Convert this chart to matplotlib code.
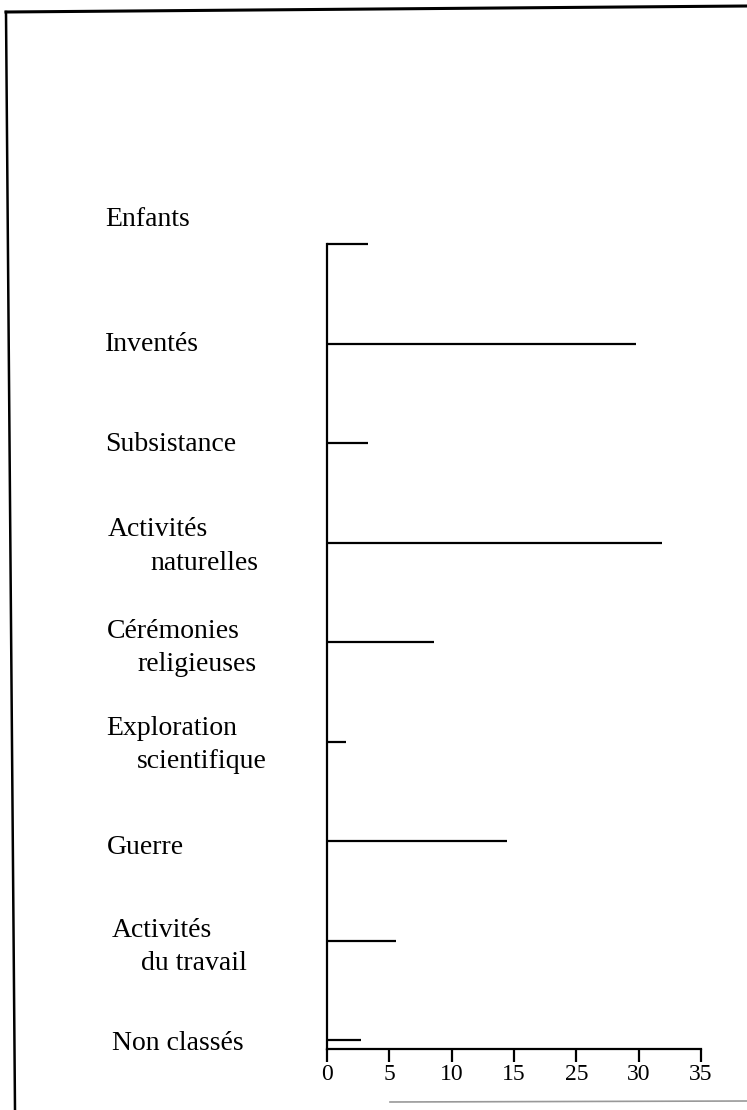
import matplotlib.pyplot as plt
from matplotlib.lines import Line2D
import matplotlib.transforms as mtransforms

# categories (two-line labels split in two parts) and values
categories = ["Enfants", "Inventés", "Subsistance", "Activités\nnaturelles",
              "Cérémonies\nreligieuses", "Exploration\nscientifique", "Guerre",
              "Activités\ndu travail", "Non classés"]
values = [3.3, 24.8, 3.3, 26.9, 8.6, 1.5, 14.4, 5.5, 2.7]
# the printed axis skips 20 (misprint in the original figure)
tick_labels = ["0", "5", "10", "15", "25", "30", "35"]

W, H = 747, 1110
fig = plt.figure(figsize=(W / 100, H / 100), dpi=100)
fig.patch.set_facecolor("white")

serif = ["Liberation Serif", "DejaVu Serif"]

ax = fig.add_axes([327 / W, 1 - 1049 / H, (701 - 327) / W, (1049 - 244) / H])
ypos = list(range(len(categories)))
ax.hlines(ypos, 0, values, colors="black", linewidth=1.6, clip_on=False)
ax.set_xlim(0, 30)
ax.set_ylim(8.09, 0)

for s in ["top", "right"]:
    ax.spines[s].set_visible(False)
ax.spines["left"].set_linewidth(1.6)
ax.spines["bottom"].set_linewidth(1.6)
ax.set_yticks([])
ax.set_xticks(range(0, 31, 5))
ax.set_xticklabels(tick_labels, fontfamily=serif, fontsize=17)
ax.tick_params(axis="x", length=9, width=1.6, pad=2)

# category labels: x in pixels, y follows the bar; second line indented
label_x = [105, 105, 105, 108, 107, 106, 107, 112, 112]
label_indent = [0, 0, 0, 42, 30, 31, 0, 29, 0]
label_dy = [-0.30, -0.04, -0.04, -0.01, 0.01, -0.015, 0.01, 0.015, -0.02]
bias = 0.05
line_gap = 0.34
trans = mtransforms.blended_transform_factory(fig.transFigure, ax.transData)
for i, lab in enumerate(categories):
    parts = lab.split("\n")
    y0 = i + label_dy[i] + bias
    if len(parts) == 1:
        ax.text(label_x[i] / W, y0, parts[0], transform=trans, ha="left",
                va="center", fontfamily=serif, fontsize=20, clip_on=False)
    else:
        ax.text(label_x[i] / W, y0 - line_gap / 2, parts[0], transform=trans,
                ha="left", va="center", fontfamily=serif, fontsize=20, clip_on=False)
        ax.text((label_x[i] + label_indent[i]) / W, y0 + line_gap / 2, parts[1],
                transform=trans, ha="left", va="center", fontfamily=serif,
                fontsize=20, clip_on=False)

# scanned page frame
fig.add_artist(Line2D([6 / W, 1], [1 - 12 / H, 1 - 6 / H], color="black", linewidth=2.2))
fig.add_artist(Line2D([6 / W, 15 / W], [1 - 12 / H, 0], color="black", linewidth=1.8))
fig.add_artist(Line2D([390 / W, 1], [1 - 1102 / H, 1 - 1101 / H], color="#999999", linewidth=1.2))

fig.savefig("out.png", dpi=100, facecolor="white")
